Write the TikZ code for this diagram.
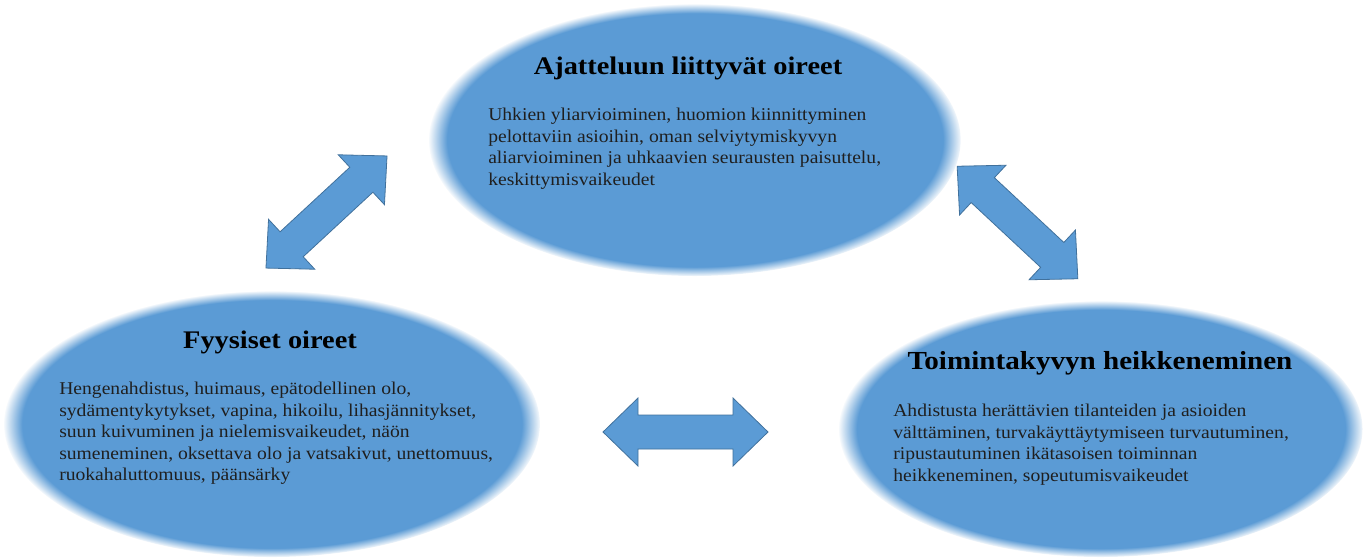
\documentclass[tikz,border=0pt]{standalone}
\usepackage{fontspec}
\setmainfont{Liberation Serif}
\newfontfamily\bodyfont[FakeStretch=1.09]{Liberation Serif}
\newfontfamily\headfont[FakeStretch=1.12]{Liberation Serif}
\usetikzlibrary{shapes.geometric,fadings}
\pgfdeclareradialshading{softblobshading}{\pgfpointorigin}{color(0bp)=(white); color(23.2bp)=(white); color(25bp)=(black); color(50bp)=(black)}
\pgfdeclarefading{soft edge blob}{\pgfuseshading{softblobshading}}
\definecolor{blobblue}{RGB}{91,155,213}
\definecolor{arrowline}{RGB}{65,113,156}
\tikzset{
  blobname/.style={ellipse, draw=none, inner sep=0pt},
  titletext/.style={font=\headfont\fontsize{19}{22}\selectfont\bfseries, text=black, inner sep=0pt, anchor=base},
  bodytext/.style={font=\bodyfont\fontsize{13.5}{16.1}\selectfont, text=black!88, align=left, inner sep=0pt, anchor=north west},
  dblarrow/.style={fill=blobblue, draw=arrowline, line width=0.6pt, line join=miter},
}
\newcommand{\glowblob}[5]{% name cx cy rx ry
  \fill[blobblue, path fading=soft edge blob, fit fading=true]
    (#2,#3) ellipse [x radius={#4*0.75pt}, y radius={#5*0.75pt}];
  \node[blobname, minimum width={(#4)*1.5pt}, minimum height={(#5)*1.5pt}] (#1) at (#2,#3) {};
}
\newcommand{\twoheaded}[4]{% name cx cy angle
  \begin{scope}[shift={(#2,#3)}, rotate=#4]
    \coordinate (#1) at (0,0);
    \draw[dblarrow] (-82.5,0) -- (-47.5,34) -- (-47.5,17) -- (47.5,17) -- (47.5,34) -- (82.5,0)
      -- (47.5,-34) -- (47.5,-17) -- (-47.5,-17) -- (-47.5,-34) -- cycle;
  \end{scope}
}
\begin{document}
\begin{tikzpicture}[x=0.75pt, y=-0.75pt]
\useasboundingbox[fill=white] (0,0) rectangle (1367,558);

\glowblob{top}{695}{140}{266}{136}
\glowblob{left}{272}{424}{268}{133}
\glowblob{right}{1101}{429}{262}{128}

\node[titletext] (toptitle) at (688,74) {Ajatteluun liittyvät oireet};
\node[bodytext] (topbody) at (488,108) {Uhkien yliarvioiminen, huomion kiinnittyminen\\
pelottaviin asioihin, oman selviytymiskyvyn\\
aliarvioiminen ja uhkaavien seurausten paisuttelu,\\
keskittymisvaikeudet};

\node[titletext] (lefttitle) at (270,348) {Fyysiset oireet};
\node[bodytext] (leftbody) at (59,382) {Hengenahdistus, huimaus, epätodellinen olo,\\
sydämentykytykset, vapina, hikoilu, lihasjännitykset,\\
suun kuivuminen ja nielemisvaikeudet, näön\\
sumeneminen, oksettava olo ja vatsakivut, unettomuus,\\
ruokahaluttomuus, päänsärky};

\node[titletext, font=\headfont\fontsize{19.5}{22}\selectfont\bfseries] (righttitle) at (1100,369) {Toimintakyvyn heikkeneminen};
\node[bodytext] (rightbody) at (893,404) {Ahdistusta herättävien tilanteiden ja asioiden\\
välttäminen, turvakäyttäytymiseen turvautuminen,\\
ripustautuminen ikätasoisen toiminnan\\
heikkeneminen, sopeutumisvaikeudet};

\twoheaded{arrowTL}{326.5}{212}{42.8}
\twoheaded{arrowTR}{1017.5}{222.5}{-43}
\twoheaded{arrowLR}{685.5}{432}{0}
\end{tikzpicture}
\end{document}
